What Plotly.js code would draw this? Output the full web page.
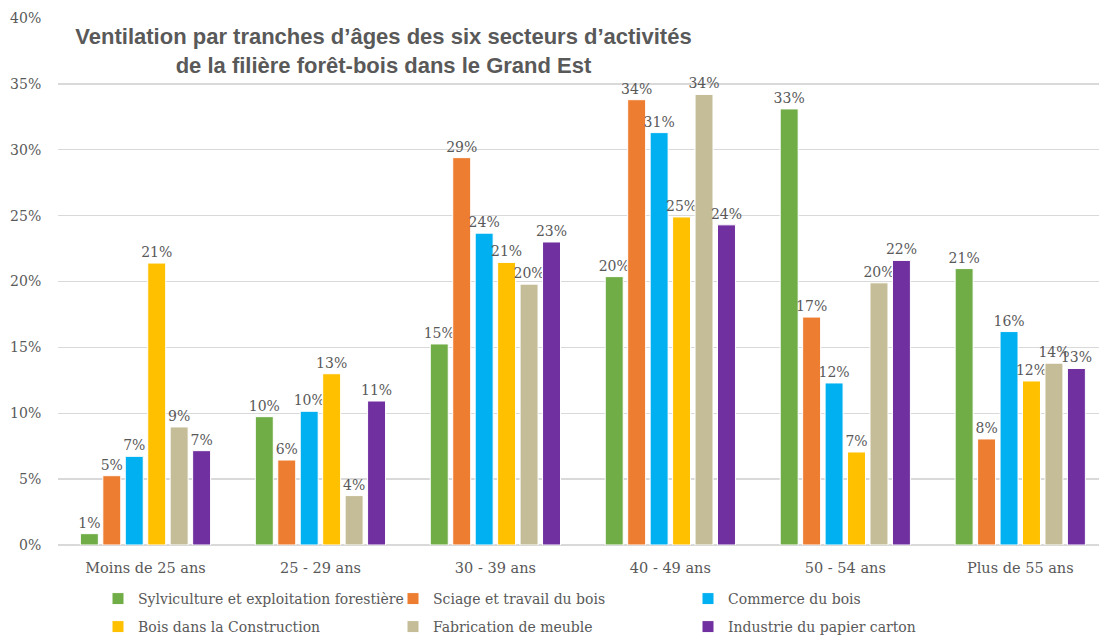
<!DOCTYPE html>
<html><head><meta charset="utf-8">
<script src="https://cdn.plot.ly/plotly-3.0.1.min.js"></script>
<style>html,body{margin:0;padding:0;background:#fff}#chart{width:1099px;height:637px}</style>
</head><body><div id="chart"></div>
<script>
const categories = ["Moins de 25 ans", "25 - 29 ans", "30 - 39 ans", "40 - 49 ans", "50 - 54 ans", "Plus de 55 ans"];
const seriesNames = ["Sylviculture et exploitation forestière", "Sciage et travail du bois", "Commerce du bois",
  "Bois dans la Construction", "Fabrication de meuble", "Industrie du papier carton"];
const sylviculture = [0.86, 9.74, 15.26, 20.37, 33.1, 20.98];
const sciage       = [5.26, 6.45, 29.4, 33.8, 17.3, 8.05];
const commerce     = [6.73, 10.15, 23.67, 31.3, 12.3, 16.2];
const construction = [21.4, 13.0, 21.45, 24.9, 7.06, 12.45];
const meuble       = [8.96, 3.75, 19.8, 34.2, 19.9, 13.8];
const papier       = [7.16, 10.93, 23.0, 24.3, 21.6, 13.4];
const yTicks = [0, 5, 10, 15, 20, 25, 30, 35, 40];

const colors = ["#70AD47", "#ED7D31", "#00B0F0", "#FFC000", "#C4BD97", "#7030A0"];
const allSeries = [sylviculture, sciage, commerce, construction, meuble, papier];
const fontFam = "DejaVu Serif, serif";
const grey = "#595959";

const traces = allSeries.map((vals, i) => ({
  type: "bar", x: categories, y: vals, name: seriesNames[i],
  marker: {color: colors[i], line: {color: "#ffffff", width: 1}},
  texttemplate: "%{y:.0f}%", textposition: "outside", constraintext: "none", textangle: 0,
  cliponaxis: false,
  textfont: {family: fontFam, size: 14, color: grey},
  legend: i < 3 ? "legend" : "legend2",
  hoverinfo: "skip"
}));

const legendCommon = {
  orientation: "h", xanchor: "left", yanchor: "top",
  xref: "paper", yref: "container",
  font: {family: fontFam, size: 14, color: grey},
  entrywidth: 250, entrywidthmode: "pixels", bgcolor: "rgba(0,0,0,0)"
};

const layout = {
  width: 1099, height: 637,
  margin: {l: 58, r: 0, t: 18, b: 92},
  paper_bgcolor: "#ffffff", plot_bgcolor: "#ffffff",
  title: {
    text: "<b>Ventilation par tranches d’âges des six secteurs d’activités<br>de la filière forêt-bois dans le Grand Est</b>",
    font: {family: "Liberation Sans, Arial, sans-serif", size: 22, color: grey},
    x: 383.5/1099, xanchor: "center", xref: "container",
    y: 1 - 44/637, yanchor: "top", yref: "container"
  },
  barmode: "group", bargap: 0.23, bargroupgap: 0.2,
  xaxis: {
    range: [-0.5, 5.45], showgrid: false, zeroline: false, showline: false,
    tickfont: {family: fontFam, size: 14.5, color: grey},
    ticks: "outside", ticklen: 10, tickcolor: "rgba(0,0,0,0)", fixedrange: true
  },
  yaxis: {
    range: [0, 40], tickvals: yTicks, ticktext: yTicks.map(v => v + "%"),
    showgrid: true, gridcolor: "#d9d9d9", gridwidth: 1.3,
    zeroline: true, zerolinecolor: "#d9d9d9", zerolinewidth: 1.3, showline: false,
    ticks: "outside", ticklen: 13, tickcolor: "rgba(0,0,0,0)",
    tickfont: {family: fontFam, size: 14, color: grey}
  },
  showlegend: true,
  legend: Object.assign({}, legendCommon, {x: (98 - 58)/1041, y: 1 - 583/637}),
  legend2: Object.assign({}, legendCommon, {x: (98 - 58)/1041, y: 1 - 611/637})
};

Plotly.newPlot("chart", traces, layout, {displayModeBar: false, staticPlot: true});
</script></body></html>
